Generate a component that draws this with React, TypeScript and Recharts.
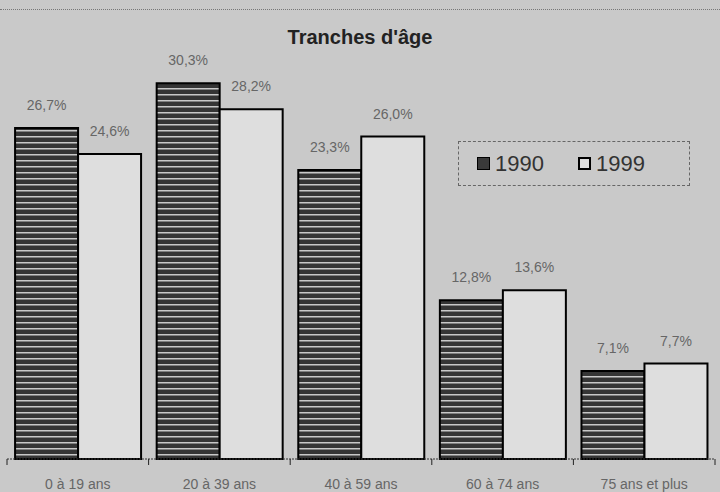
import React from 'react';
import { BarChart, Bar, XAxis, YAxis, LabelList } from 'recharts';

const categories = ['0 à 19 ans', '20 à 39 ans', '40 à 59 ans', '60 à 74 ans', '75 ans et plus'];
const values1990 = [26.7, 30.3, 23.3, 12.8, 7.1];
const values1999 = [24.6, 28.2, 26.0, 13.6, 7.7];
const seriesNames = ['1990', '1999'];

const data = categories.map((c, i) => ({ cat: c, y1990: values1990[i], y1999: values1999[i] }));

const fmt = (v: number) => v.toFixed(1).replace('.', ',') + '%';

const BAND = (720 - 12) / 5;
const FONT = 'Liberation Sans, Arial, sans-serif';

const Tick = (props: any) => {
  const { x, y, payload, index } = props;
  const left = x - BAND / 2;
  const right = x + BAND / 2;
  return (
    <g>
      <line x1={left} y1={y - 8} x2={left} y2={y - 2} stroke="#222" strokeWidth={1} />
      {index === categories.length - 1 && (
        <line x1={right} y1={y - 8} x2={right} y2={y - 2} stroke="#222" strokeWidth={1} />
      )}
      <text x={x} y={y + 22} textAnchor="middle" fontSize={14} fill="#666" fontFamily={FONT}>
        {payload.value}
      </text>
    </g>
  );
};

const LegendBox = () => (
  <div
    style={{
      position: 'absolute',
      left: 458,
      top: 141,
      width: 232,
      height: 45,
      border: '1px dashed #666',
      boxSizing: 'border-box',
      display: 'flex',
      alignItems: 'center',
      fontFamily: FONT,
      fontSize: 22,
      color: '#333',
    }}
  >
    <span style={{ display: 'inline-block', width: 13, height: 13, background: '#3a3a3a', border: '1px solid #000', marginLeft: 18, marginRight: 5, boxSizing: 'border-box' }} />
    <span>{seriesNames[0]}</span>
    <span style={{ display: 'inline-block', width: 13, height: 13, background: '#ddd', border: '2px solid #000', marginLeft: 34, marginRight: 5, boxSizing: 'border-box' }} />
    <span>{seriesNames[1]}</span>
  </div>
);

export default function App() {
  return (
    <div style={{ position: 'fixed', left: 0, top: 0, width: 720, height: 492, background: '#c9c9c9', overflow: 'hidden' }}>
      <div style={{ position: 'absolute', left: 0, right: 0, top: 9, borderTop: '1px dotted #777' }} />
      <div
        style={{
          position: 'absolute',
          left: 0,
          width: 720,
          top: 25,
          lineHeight: '24px',
          textAlign: 'center',
          fontFamily: FONT,
          fontWeight: 'bold',
          fontSize: 20,
          color: '#222',
        }}
      >
        Tranches d'âge
      </div>
      <BarChart
        width={720}
        height={492}
        data={data}
        margin={{ top: 25, right: 5, bottom: 3, left: 7 }}
        barCategoryGap="5.7%"
        barGap={0}
        style={{ overflow: 'visible' }}
      >
        <defs>
          <pattern id="stripes" width="6" height="6" patternUnits="userSpaceOnUse">
            <rect width="6" height="6" fill="#353535" />
            <rect y="4" width="6" height="1.5" fill="#c8c8c8" />
          </pattern>
        </defs>
        <XAxis
          dataKey="cat"
          axisLine={{ stroke: '#333', strokeWidth: 1, strokeDasharray: '2 1' }}
          tickLine={false}
          tick={<Tick />}
          height={30}
          interval={0}
        />
        <YAxis hide domain={[0, 35]} />
        <Bar dataKey="y1990" name={seriesNames[0]} fill="url(#stripes)" stroke="#000" strokeWidth={2} isAnimationActive={false}>
          <LabelList dataKey="y1990" position="top" offset={18} formatter={(v: any) => fmt(Number(v))} fill="#666" fontSize={14} fontFamily={FONT} />
        </Bar>
        <Bar dataKey="y1999" name={seriesNames[1]} fill="#dedede" stroke="#000" strokeWidth={2} isAnimationActive={false}>
          <LabelList dataKey="y1999" position="top" offset={18} formatter={(v: any) => fmt(Number(v))} fill="#666" fontSize={14} fontFamily={FONT} />
        </Bar>
      </BarChart>
      <LegendBox />
    </div>
  );
}
